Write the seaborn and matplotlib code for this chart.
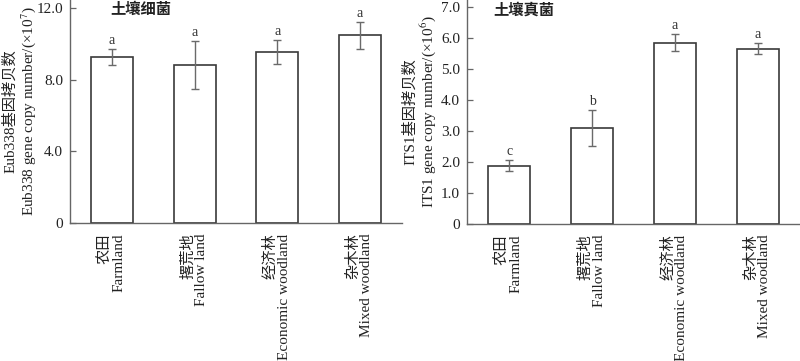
import matplotlib
matplotlib.use("Agg")
import matplotlib.pyplot as plt
import seaborn as sns
import pandas as pd

sns.set_theme(style="white")
plt.rcParams['font.family'] = ['Liberation Serif', 'Noto Sans CJK SC']
plt.rcParams['mathtext.fontset'] = 'stix'

categories = ["农田\nFarmland", "撂荒地\nFallow land", "经济林\nEconomic woodland", "杂木林\nMixed woodland"]

bact_mean = [9.26, 8.82, 9.56, 10.47]
bact_err = [0.45, 1.35, 0.66, 0.76]
bact_letters = ["a", "a", "a", "a"]

fung_mean = [1.88, 3.10, 5.85, 5.65]
fung_err = [0.18, 0.57, 0.26, 0.18]
fung_letters = ["c", "b", "a", "a"]

W, H = 800, 361
fig = plt.figure(figsize=(8, 3.61), dpi=100)

AX_C = '#666666'
EDGE_C = '#3a3a3a'
ERR_C = '#6a6a6a'
FS = 11


def panel(rect, means, errs, letters, ylim, yticks, yticklabels, ylab, title, title_x, label_x):
    l, t, r, b = rect
    ax = fig.add_axes([l / W, (H - b) / H, (r - l) / W, (b - t) / H])
    df = pd.DataFrame({"cat": categories, "val": means})
    sns.barplot(data=df, x="cat", y="val", ax=ax, color="white", edgecolor=EDGE_C,
                linewidth=1.2, width=0.51, errorbar=None, saturation=1)
    xs = list(range(len(means)))
    ax.errorbar(xs, means, yerr=errs, fmt='none', ecolor=ERR_C, elinewidth=1.0,
                capsize=3, capthick=1.0)
    for x, m, e, s in zip(xs, means, errs, letters):
        ax.annotate(s, (x, m + e), xytext=(0, 1.5), textcoords='offset points',
                    ha='center', va='bottom', fontsize=FS - 1, color='#333333')
    ax.set_ylim(*ylim)
    ax.set_xlim(-0.51, 3.51)
    ax.set_yticks(yticks)
    ax.set_yticklabels(yticklabels, fontsize=FS, color='#222222')
    ax.tick_params(axis='y', direction='in', length=4, width=0.9, color=AX_C, pad=5, left=True)
    ax.tick_params(axis='x', length=0, pad=7.5)
    for lab in ax.get_xticklabels():
        lab.set_rotation(90)
        lab.set_fontsize(FS)
        lab.set_ha('center')
        lab.set_va('top')
        lab.set_multialignment('right')
        lab.set_color('#222222')
        lab.set_linespacing(1.0)
    ax.set_xlabel("")
    ax.set_ylabel(ylab, fontsize=FS, color='#222222', multialignment='center', linespacing=1.1)
    ax.yaxis.set_label_coords(label_x, 0.5)
    for s in ['top', 'right']:
        ax.spines[s].set_visible(False)
    for s in ['left', 'bottom']:
        ax.spines[s].set_color(AX_C)
        ax.spines[s].set_linewidth(1.0)
    ax.text(title_x, 0.955, title, transform=ax.transAxes, fontsize=FS, fontweight='bold',
            ha='left', va='center', color='#222222')
    return ax


panel((70, 0, 402, 223), bact_mean, bact_err, bact_letters, (0, 12.45), [0, 4, 8, 12],
      ["0", "4.0", "8.0", "12.0"],
      "Eub338基因拷贝数\nEub338 gene copy number/(×10$^{7}$)", "土壤细菌", 0.12, -0.097)

panel((467, 0, 800, 224), fung_mean, fung_err, fung_letters, (0, 7.22), [0, 1, 2, 3, 4, 5, 6, 7],
      ["0", "1.0", "2.0", "3.0", "4.0", "5.0", "6.0", "7.0"],
      "ITS1基因拷贝数\nITS1 gene copy number/(×10$^{6}$)", "土壤真菌", 0.078, -0.086)

fig.savefig("out.png", dpi=100)
